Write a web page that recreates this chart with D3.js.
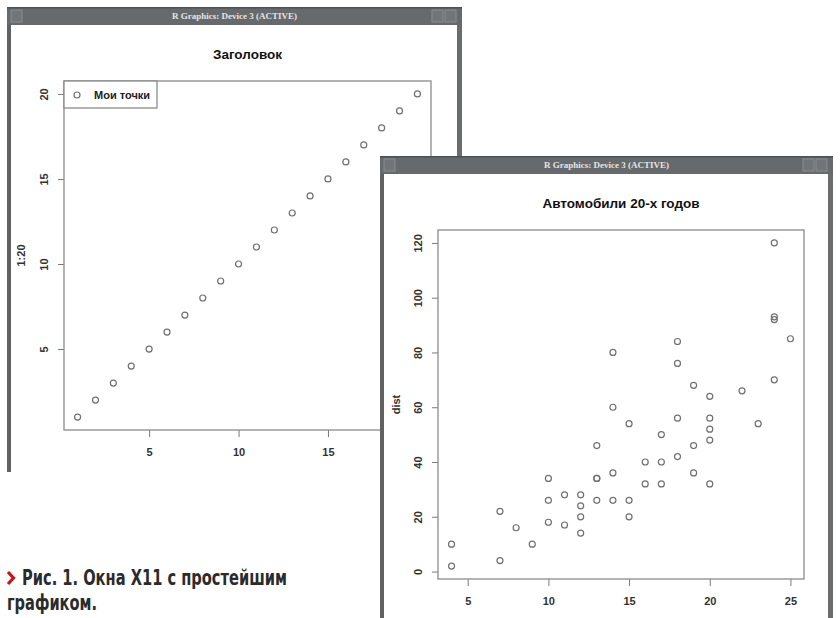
<!DOCTYPE html>
<html>
<head>
<meta charset="utf-8">
<script src="https://cdn.jsdelivr.net/npm/d3@7"></script>
<style>
  body { margin: 0; background: #fff; }
  svg { display: block; }
</style>
</head>
<body>
<svg id="chart" width="840" height="618"></svg>
<script>
// window 1: plot(1:20)
const idx = d3.range(1, 21)
const plot1Ticks = [5, 10, 15, 20]

// window 2: cars dataset (speed vs dist)
const speed = [4,4,7,7,8,9,10,10,10,11,11,12,12,12,12,13,13,13,13,14,14,14,14,15,15,15,16,16,17,17,17,18,18,18,18,19,19,19,20,20,20,20,20,22,23,24,24,24,24,25]
const dist = [2,10,4,22,16,10,18,26,34,17,28,14,20,24,28,26,34,34,46,26,36,60,80,20,26,54,32,40,32,40,50,42,56,76,84,36,46,68,32,48,52,56,64,66,54,70,92,93,120,85]
const speedTicks = [5, 10, 15, 20, 25]
const distTicks = [0, 20, 40, 60, 80, 100, 120]

const titleBarText = "R Graphics: Device 3 (ACTIVE)"

const svg = d3.select("#chart")
const font = "'Liberation Sans', Arial, sans-serif"

// grey X11 frame with title bar
function drawWindow(x0, y0, x1, y1) {
    const g = svg.append("g")
    g.append("rect")
        .attr("x", x0).attr("y", y0)
        .attr("width", x1 - x0).attr("height", y1 - y0)
        .attr("fill", "#fff")
    // side borders
    g.append("rect").attr("x", x0).attr("y", y0).attr("width", 4).attr("height", y1 - y0).attr("fill", "#5f6163")
    g.append("rect").attr("x", x1 - 5).attr("y", y0).attr("width", 5).attr("height", y1 - y0).attr("fill", "#6a6c6e")
    // title bar
    g.append("rect").attr("x", x0).attr("y", y0).attr("width", x1 - x0).attr("height", 18).attr("fill", "#676a6d")
    g.append("rect").attr("x", x0).attr("y", y0).attr("width", x1 - x0).attr("height", 1.5).attr("fill", "#4e5052")
    // buttons
    const btn = [x0 + 4, x1 - 30, x1 - 17]
    btn.forEach(bx => {
        g.append("rect").attr("x", bx).attr("y", y0 + 3).attr("width", 11).attr("height", 12)
            .attr("fill", "#727578").attr("stroke", "#8a8d90").attr("stroke-width", 1)
    })
    g.append("text")
        .attr("x", (x0 + x1) / 2).attr("y", y0 + 12)
        .attr("text-anchor", "middle")
        .attr("font-family", "'Liberation Serif', 'DejaVu Serif', serif")
        .attr("font-size", 9)
        .attr("font-weight", "bold")
        .attr("fill", "#e4e4e4")
        .text(titleBarText)
    return g
}

// R base-graphics style axes
function styleAxis(g, rotate) {
    g.select(".domain").remove()
    g.selectAll(".tick line").attr("stroke", "#7a7a7a")
    g.selectAll(".tick text")
        .attr("font-family", font)
        .attr("font-size", 11)
        .attr("font-weight", "bold")
        .attr("fill", "#333")
    if (rotate) {
        g.selectAll(".tick text")
            .attr("transform", "rotate(-90)")
            .attr("x", 0).attr("y", -16).attr("dy", 0)
            .attr("text-anchor", "middle")
    }
}

function drawPlot(box, xs, ys, xTicks, yTicks, xVals, yVals, title, ylab, ylabX) {
    const [left, top, right, bottom] = box
    const x = d3.scaleLinear().domain(xs).range([left, right])
    const y = d3.scaleLinear().domain(ys).range([bottom, top])

    svg.append("text")
        .attr("x", (left + right) / 2).attr("y", top - 22)
        .attr("text-anchor", "middle")
        .attr("font-family", font).attr("font-size", 13.5).attr("font-weight", "bold")
        .attr("fill", "#111")
        .text(title)

    const gx = svg.append("g").attr("transform", `translate(0,${bottom})`)
        .call(d3.axisBottom(x).tickValues(xTicks).tickSize(7).tickPadding(11))
    styleAxis(gx, false)

    const gy = svg.append("g").attr("transform", `translate(${left},0)`)
        .call(d3.axisLeft(y).tickValues(yTicks).tickSize(6))
    styleAxis(gy, true)

    svg.append("text")
        .attr("transform", `translate(${ylabX},${(top + bottom) / 2}) rotate(-90)`)
        .attr("text-anchor", "middle")
        .attr("font-family", font).attr("font-size", 11).attr("font-weight", "bold")
        .attr("fill", "#333")
        .text(ylab)

    svg.append("rect")
        .attr("x", left).attr("y", top)
        .attr("width", right - left).attr("height", bottom - top)
        .attr("fill", "none").attr("stroke", "#8a8a8a").attr("stroke-width", 1.3)

    svg.append("g").selectAll("circle")
        .data(xVals)
        .join("circle")
            .attr("cx", d => x(d))
            .attr("cy", (d, i) => y(yVals[i]))
            .attr("r", 3)
            .attr("fill", "none")
            .attr("stroke", "#707070")
            .attr("stroke-width", 1.2)
    return { x, y }
}

// ---- window 1
drawWindow(7, 7, 462, 472)
drawPlot([64, 81, 431, 430], [0.24, 20.76], [0.24, 20.76],
    plot1Ticks, plot1Ticks, idx, idx, "Заголовок", "1:20", 25)

// legend
svg.append("rect")
    .attr("x", 64).attr("y", 81).attr("width", 93).attr("height", 27)
    .attr("fill", "#fff").attr("stroke", "#8a8a8a").attr("stroke-width", 1.3)
svg.append("circle").attr("cx", 77).attr("cy", 95).attr("r", 3)
    .attr("fill", "none").attr("stroke", "#707070").attr("stroke-width", 1.2)
svg.append("text").attr("x", 94).attr("y", 99)
    .attr("font-family", font).attr("font-size", 11).attr("font-weight", "bold").attr("fill", "#222")
    .text("Мои точки")

// ---- window 2
drawWindow(380, 156, 833, 640)
drawPlot([438, 230, 804, 579], [3.16, 25.84], [-2.72, 124.72],
    speedTicks, distTicks, speed, dist, "Автомобили 20-х годов", "dist", 400)

// ---- caption
svg.append("path")
    .attr("d", "M8,572 L13.5,578 L8,584")
    .attr("fill", "none").attr("stroke", "#c4161c").attr("stroke-width", 3.2)
const cap = svg.append("g")
    .attr("font-family", "'Liberation Sans Narrow', 'DejaVu Sans Condensed', sans-serif")
    .attr("font-weight", "bold")
    .attr("font-size", 21)
    .attr("fill", "#2b2b2b")
cap.append("text").attr("x", 22).attr("y", 585)
    .attr("textLength", 265).attr("lengthAdjust", "spacingAndGlyphs")
    .text("Рис. 1. Окна X11 с простейшим")
cap.append("text").attr("x", 7).attr("y", 610)
    .attr("textLength", 90).attr("lengthAdjust", "spacingAndGlyphs")
    .text("графиком.")
</script>
</body>
</html>
